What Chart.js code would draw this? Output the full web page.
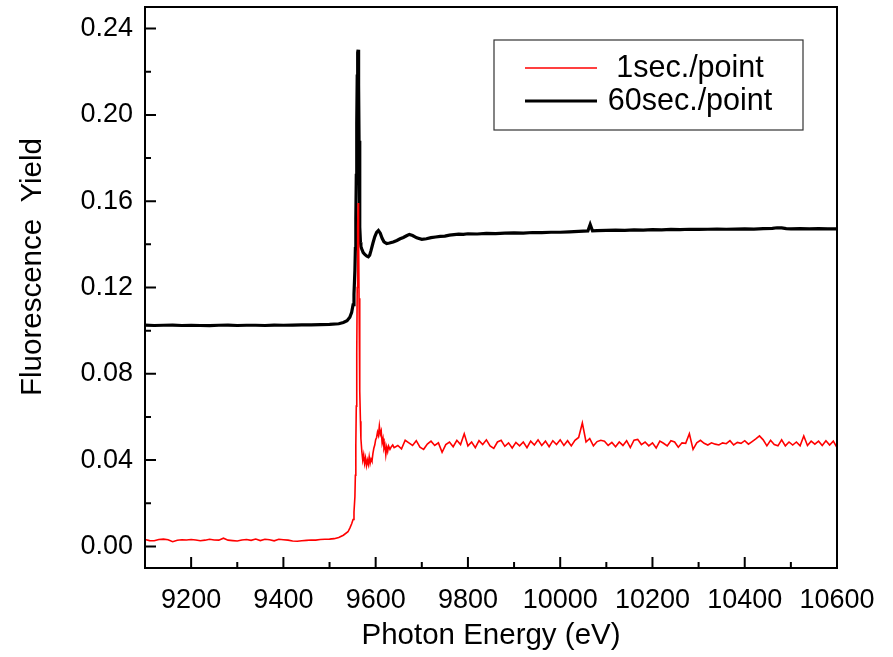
<!DOCTYPE html>
<html>
<head>
<meta charset="utf-8">
<script src="https://cdn.jsdelivr.net/npm/chart.js@4/dist/chart.umd.min.js"></script>
<style>
  html, body { margin: 0; padding: 0; background: #fff; }
  #wrap { width: 893px; height: 657px; }
</style>
</head>
<body>
<div id="wrap"><canvas id="c" width="893" height="657"></canvas></div>
<script>
// Fluorescence XAFS scans: 1 s/point (noisy) vs 60 s/point (smooth)
const seriesLabels = ['1sec./point', '60sec./point'];
const xTitle = 'Photon Energy (eV)';
const yTitle = 'Fluorescence  Yield';

// 1 sec./point scan
const fastEnergy = [
  9100, 9110, 9120, 9130, 9140, 9150, 9160, 9170, 9180, 9190,
  9200, 9210, 9220, 9230, 9240, 9250, 9260, 9270, 9280, 9290,
  9300, 9310, 9320, 9330, 9340, 9350, 9360, 9370, 9380, 9390,
  9400, 9410, 9420, 9430, 9440, 9450, 9460, 9470, 9480, 9490,
  9500, 9510, 9520, 9530, 9540,
  9544, 9548, 9551, 9553, 9555, 9556, 9557, 9558, 9559, 9560,
  9561, 9562, 9563, 9564, 9565, 9566, 9567, 9568, 9570, 9572,
  9574, 9576, 9578, 9580, 9582, 9584, 9586, 9588, 9590, 9592,
  9594, 9596, 9598, 9600, 9602, 9604, 9606, 9608, 9610, 9612,
  9614, 9616, 9618, 9620, 9622, 9624, 9626, 9628, 9631, 9634,
  9637, 9640,
  9648, 9656, 9664, 9672, 9680, 9688, 9696, 9704, 9712, 9720,
  9728, 9736, 9744, 9752, 9760, 9768, 9776, 9784, 9792, 9800,
  9808, 9816, 9824, 9832, 9840, 9848, 9856, 9864, 9872, 9880,
  9888, 9896, 9904, 9912, 9920, 9928, 9936, 9944, 9952, 9960,
  9968, 9976, 9984, 9992, 10000, 10008, 10016, 10024, 10032, 10040,
  10048, 10056, 10064, 10072, 10080, 10088, 10096, 10104, 10112, 10120,
  10128, 10136, 10144, 10152, 10160, 10168, 10176, 10184, 10192, 10200,
  10208, 10216, 10224, 10232, 10240, 10248, 10256, 10264, 10272, 10280,
  10288, 10296, 10304, 10312, 10320, 10328, 10336, 10344, 10352, 10360,
  10368, 10376, 10384, 10392, 10400, 10408, 10416, 10424, 10432, 10440,
  10448, 10456, 10464, 10472, 10480, 10488, 10496, 10504, 10512, 10520,
  10528, 10536, 10544, 10552, 10560, 10568, 10576, 10584, 10592, 10600
];
const fastYield = [
  0.0032, 0.0027, 0.0026, 0.0032, 0.0034, 0.0031, 0.0022, 0.0029, 0.0031, 0.0030,
  0.0032, 0.0030, 0.0026, 0.0029, 0.0033, 0.0030, 0.0029, 0.0038, 0.0029, 0.0027,
  0.0025, 0.0030, 0.0032, 0.0028, 0.0034, 0.0027, 0.0033, 0.0031, 0.0026, 0.0033,
  0.0031, 0.0029, 0.0025, 0.0024, 0.0026, 0.0028, 0.0030, 0.0029, 0.0032, 0.0033,
  0.0034, 0.0036, 0.0041, 0.0052, 0.0068,
  0.0085, 0.0105, 0.0125, 0.0160, 0.0230, 0.0330, 0.0470, 0.0650, 0.0900, 0.1200,
  0.1480, 0.1592, 0.1450, 0.1150, 0.0900, 0.0720, 0.0580, 0.0500, 0.0440, 0.0400,
  0.0425, 0.0385, 0.0410, 0.0375, 0.0400, 0.0380, 0.0415, 0.0385, 0.0405, 0.0395,
  0.0430, 0.0455, 0.0470, 0.0495, 0.0505, 0.0530, 0.0515, 0.0558, 0.0520, 0.0535,
  0.0480, 0.0500, 0.0455, 0.0470, 0.0425, 0.0460, 0.0440, 0.0465, 0.0450, 0.0462,
  0.0470, 0.0458,
  0.0468, 0.0452, 0.0492, 0.0480, 0.0468, 0.0490, 0.0460, 0.0450, 0.0474, 0.0488,
  0.0468, 0.0480, 0.0436, 0.0472, 0.0484, 0.0462, 0.0492, 0.0472, 0.0522, 0.0466,
  0.0484, 0.0458, 0.0490, 0.0472, 0.0494, 0.0466, 0.0454, 0.0484, 0.0492, 0.0464,
  0.0480, 0.0456, 0.0482, 0.0466, 0.0484, 0.0458, 0.0488, 0.0470, 0.0494, 0.0468,
  0.0488, 0.0462, 0.0490, 0.0472, 0.0494, 0.0468, 0.0490, 0.0466, 0.0492, 0.0505,
  0.0572, 0.0484, 0.0500, 0.0466, 0.0486, 0.0492, 0.0488, 0.0468, 0.0482, 0.0462,
  0.0484, 0.0468, 0.0490, 0.0458, 0.0492, 0.0496, 0.0472, 0.0484, 0.0466, 0.0480,
  0.0456, 0.0488, 0.0478, 0.0466, 0.0490, 0.0484, 0.0460, 0.0480, 0.0478, 0.0522,
  0.0450, 0.0480, 0.0492, 0.0478, 0.0470, 0.0480, 0.0474, 0.0470, 0.0480, 0.0476,
  0.0490, 0.0470, 0.0482, 0.0478, 0.0490, 0.0474, 0.0486, 0.0498, 0.0512, 0.0494,
  0.0466, 0.0492, 0.0472, 0.0466, 0.0494, 0.0466, 0.0484, 0.0470, 0.0484, 0.0466,
  0.0512, 0.0468, 0.0488, 0.0474, 0.0488, 0.0468, 0.0490, 0.0470, 0.0488, 0.0458
];

// 60 sec./point scan
const slowEnergy = [
  9100, 9120, 9140, 9160, 9180, 9200, 9220, 9240, 9260, 9280,
  9300, 9320, 9340, 9360, 9380, 9400, 9420, 9440, 9460, 9480,
  9500, 9520,
  9530, 9538, 9544, 9548, 9551, 9553, 9555, 9556, 9557, 9558,
  9559, 9560, 9561, 9562, 9563, 9564, 9565, 9566, 9567, 9568,
  9570, 9573, 9577, 9581, 9584, 9587, 9590, 9594, 9598, 9602,
  9606, 9610, 9614, 9618, 9624, 9630, 9638, 9646, 9653, 9660,
  9667, 9673, 9680, 9689, 9700, 9710, 9720, 9730, 9740, 9750,
  9760, 9770, 9780, 9790, 9800,
  9820, 9840, 9860, 9880, 9900, 9920, 9940, 9960, 9980, 10000,
  10020, 10040, 10060, 10065, 10070, 10080,
  10100, 10120, 10140, 10160, 10180, 10200, 10220, 10240, 10260, 10280,
  10300, 10320, 10340, 10360, 10380, 10400, 10420, 10440, 10460, 10470,
  10480, 10490, 10500, 10520, 10540, 10560, 10580, 10600
];
const slowYield = [
  0.1026, 0.1024, 0.1025, 0.1026, 0.1024, 0.1025, 0.1024, 0.1023, 0.1025, 0.1026,
  0.1024, 0.1025, 0.1025, 0.1024, 0.1026, 0.1025, 0.1026, 0.1027, 0.1027, 0.1028,
  0.1029, 0.1032,
  0.1038, 0.1046, 0.1062, 0.1085, 0.1120, 0.1170, 0.1280, 0.1380, 0.1520, 0.1720,
  0.1960, 0.2180, 0.2290, 0.2302, 0.2140, 0.1880, 0.1630, 0.1480, 0.1410, 0.1390,
  0.1378, 0.1362, 0.1352, 0.1345, 0.1342, 0.1350, 0.1372, 0.1405, 0.1435, 0.1455,
  0.1464, 0.1452, 0.1428, 0.1412, 0.1404, 0.1406, 0.1411, 0.1418, 0.1426, 0.1432,
  0.1440, 0.1446, 0.1441, 0.1430, 0.1423, 0.1426, 0.1431, 0.1434, 0.1437, 0.1438,
  0.1443, 0.1445, 0.1447, 0.1446, 0.1449,
  0.1448, 0.1451, 0.1450, 0.1452, 0.1453, 0.1452, 0.1455, 0.1454, 0.1456, 0.1456,
  0.1458, 0.1460, 0.1462, 0.1492, 0.1463, 0.1464,
  0.1465, 0.1466, 0.1465, 0.1467, 0.1466, 0.1468, 0.1467, 0.1469, 0.1468, 0.1470,
  0.1469, 0.1470, 0.1471, 0.1470, 0.1471, 0.1472, 0.1471, 0.1473, 0.1474, 0.1477,
  0.1476, 0.1473, 0.1472, 0.1473, 0.1472, 0.1473, 0.1472, 0.1472
];

// Axis ticks (labelled majors; minors fall halfway between)
const xTickValues = [9200, 9400, 9600, 9800, 10000, 10200, 10400, 10600];
const yTickValues = [0.00, 0.04, 0.08, 0.12, 0.16, 0.20, 0.24];
const xRange = [9100, 10600];
const yRange = [-0.01, 0.25];

const FONT = '"Liberation Sans", Arial, Helvetica, sans-serif';
const seriesColors = ['#ff0000', '#000000'];
const seriesWidths = [1.6, 3.2];

const toPoints = (xs, ys) => xs.map((x, i) => ({ x: x, y: ys[i] }));

// Frame, inward ticks, axis titles and boxed legend
const framePlugin = {
  id: 'frame',
  afterDatasetsDraw(chart) {
    const ctx = chart.ctx;
    const a = chart.chartArea;
    const xs = chart.scales.x, ys = chart.scales.y;
    ctx.save();
    ctx.strokeStyle = '#000';
    ctx.lineWidth = 2;
    ctx.strokeRect(a.left, a.top, a.right - a.left, a.bottom - a.top);

    // x ticks (inward from bottom)
    ctx.beginPath();
    xTickValues.forEach((v, i) => {
      const px = xs.getPixelForValue(v);
      ctx.moveTo(px, a.bottom); ctx.lineTo(px, a.bottom - 11);
      const prev = i === 0 ? v - (xTickValues[1] - xTickValues[0]) : xTickValues[i - 1];
      const mid = (prev + v) / 2;
      if (mid > xRange[0]) {
        const pm = xs.getPixelForValue(mid);
        ctx.moveTo(pm, a.bottom); ctx.lineTo(pm, a.bottom - 6);
      }
    });
    // y ticks (inward from left)
    yTickValues.forEach((v, i) => {
      const py = ys.getPixelForValue(v);
      ctx.moveTo(a.left, py); ctx.lineTo(a.left + 11, py);
      if (i > 0) {
        const pm = ys.getPixelForValue((yTickValues[i - 1] + v) / 2);
        ctx.moveTo(a.left, pm); ctx.lineTo(a.left + 6, pm);
      }
    });
    ctx.stroke();

    // axis titles
    ctx.fillStyle = '#000';
    ctx.font = '29.5px ' + FONT;
    ctx.textAlign = 'center';
    ctx.textBaseline = 'middle';
    ctx.fillText(xTitle, (a.left + a.right) / 2, 636);
    ctx.save();
    ctx.translate(33, 267);
    ctx.rotate(-Math.PI / 2);
    ctx.fillText(yTitle, 0, 0);
    ctx.restore();

    // legend box
    const bx = 494, by = 40, bw = 309, bh = 90;
    ctx.lineWidth = 1.2;
    ctx.strokeStyle = '#333';
    ctx.strokeRect(bx, by, bw, bh);
    const rows = [68, 101];
    ctx.font = '30.5px ' + FONT;
    chart.data.datasets.forEach((ds, i) => {
      ctx.beginPath();
      ctx.strokeStyle = ds.borderColor;
      ctx.lineWidth = Math.min(ds.borderWidth, 3);
      ctx.moveTo(525, rows[i]); ctx.lineTo(597, rows[i]);
      ctx.stroke();
      ctx.fillStyle = '#000';
      ctx.fillText(ds.label, 690, rows[i] + 1);
    });
    ctx.restore();
  }
};

function fixRange(range, ticks) {
  return (s) => {
    s.ticks = ticks.map(v => ({ value: v }));
    s.min = range[0];
    s.max = range[1];
  };
}

new Chart(document.getElementById('c'), {
  type: 'line',
  data: {
    datasets: [
      {
        label: seriesLabels[0],
        data: toPoints(fastEnergy, fastYield),
        borderColor: seriesColors[0],
        borderWidth: seriesWidths[0],
        pointRadius: 0,
        tension: 0,
        fill: false
      },
      {
        label: seriesLabels[1],
        data: toPoints(slowEnergy, slowYield),
        borderColor: seriesColors[1],
        borderWidth: seriesWidths[1],
        pointRadius: 0,
        tension: 0,
        fill: false
      }
    ]
  },
  options: {
    responsive: false,
    animation: false,
    devicePixelRatio: 1,
    layout: { padding: { left: 0, right: 56, top: 7, bottom: 0 } },
    plugins: { legend: { display: false }, tooltip: { enabled: false } },
    scales: {
      x: {
        type: 'linear',
        bounds: 'data',
        min: xRange[0],
        max: xRange[1],
        afterBuildTicks: fixRange(xRange, xTickValues),
        afterFit: (s) => { s.height = 89; s.paddingLeft = 0; s.paddingRight = 0; },
        grid: { display: false, drawTicks: false },
        border: { display: false },
        ticks: {
          color: '#000',
          font: { family: FONT, size: 27 },
          padding: 16,
          maxRotation: 0,
          autoSkip: false,
          callback: (v) => String(v)
        }
      },
      y: {
        type: 'linear',
        bounds: 'data',
        min: yRange[0],
        max: yRange[1],
        afterBuildTicks: fixRange(yRange, yTickValues),
        afterFit: (s) => { s.width = 145; s.paddingTop = 0; s.paddingBottom = 0; },
        grid: { display: false, drawTicks: false },
        border: { display: false },
        ticks: {
          color: '#000',
          font: { family: FONT, size: 27 },
          padding: 12,
          autoSkip: false,
          callback: (v) => Number(v).toFixed(2)
        }
      }
    }
  },
  plugins: [framePlugin]
});
</script>
</body>
</html>
